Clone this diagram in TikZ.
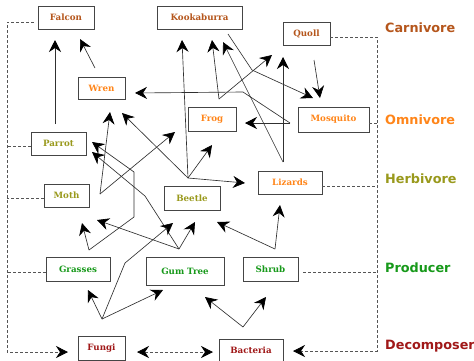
\documentclass[tikz,border=0pt]{standalone}
\usepackage{fontspec}
\setmainfont{DejaVu Serif}
\newfontfamily\levelfont{DejaVu Sans}
\usetikzlibrary{arrows.meta}
\definecolor{carnink}{HTML}{B5561C}
\definecolor{omniink}{HTML}{FF8519}
\definecolor{herbink}{HTML}{99991C}
\definecolor{prodink}{HTML}{17991A}
\definecolor{decoink}{HTML}{A01818}
\definecolor{boxline}{HTML}{454545}
\definecolor{feedink}{HTML}{303030}
\definecolor{dashink}{HTML}{555555}

\begin{document}
\begin{tikzpicture}[
  x=1pt,
  y=-1pt,
  every node/.style={font=\fontsize{8.7}{10}\selectfont\bfseries, inner sep=0pt},
  animal/.style={draw=boxline, line width=0.9pt, fill=white},
  level/.style={anchor=west, font=\levelfont\fontsize{12.8}{14}\selectfont\bfseries},
  bigtip/.style={-{Stealth[length=12pt, width=12pt, inset=4pt, color=black]}},
  feed/.style={draw=feedink, line width=0.65pt, bigtip},
  trophic/.style={draw=dashink, line width=0.7pt, dash pattern=on 3pt off 2pt}
]
  \useasboundingbox (0,0) rectangle (474,360);

  %% ---- boxes ---------------------------------------------------------------
  \node[animal, text=carnink, minimum width=56pt, minimum height=23pt] (falcon) at (66,17.5) {Falcon};
  \node[animal, text=carnink, minimum width=85pt, minimum height=23pt] (kookaburra) at (199.5,17.5) {Kookaburra};
  \node[animal, text=carnink, minimum width=47pt, minimum height=23pt] (quoll) at (306.5,33.5) {Quoll};
  \node[animal, text=omniink, minimum width=47pt, minimum height=22pt] (wren) at (101.5,88) {Wren};
  \node[animal, text=omniink, minimum width=48pt, minimum height=24pt] (frog) at (212,119) {Frog};
  \node[animal, text=omniink, minimum width=71pt, minimum height=25pt] (mosquito) at (333.5,119.5) {Mosquito};
  \node[animal, text=omniink, minimum width=64pt, minimum height=23pt] (lizards) at (290,182.5) {Lizards};
  \node[animal, text=herbink, minimum width=55pt, minimum height=23pt] (parrot) at (58.5,143.5) {Parrot};
  \node[animal, text=herbink, minimum width=45pt, minimum height=23pt] (moth) at (66.5,195.5) {Moth};
  \node[animal, text=herbink, minimum width=56pt, minimum height=24pt] (beetle) at (192,198) {Beetle};
  \node[animal, text=prodink, minimum width=64pt, minimum height=24pt] (grasses) at (78,269) {Grasses};
  \node[animal, text=prodink, minimum width=78pt, minimum height=28pt] (gumtree) at (185,271) {Gum Tree};
  \node[animal, text=prodink, minimum width=55pt, minimum height=24pt] (shrub) at (270.5,269) {Shrub};
  \node[animal, text=decoink, minimum width=47pt, minimum height=24pt] (fungi) at (101.5,348) {Fungi};
  \node[animal, text=decoink, minimum width=64pt, minimum height=23pt] (bacteria) at (251,350.5) {Bacteria};

  %% ---- trophic levels --------------------------------------------------------
  \node[level, text=carnink] (carnivore) at (385,28) {Carnivore};
  \node[level, text=omniink] (omnivore) at (385,120) {Omnivore};
  \node[level, text=herbink] (herbivore) at (385,179) {Herbivore};
  \node[level, text=prodink] (producer) at (385,268) {Producer};
  \node[level, text=decoink] (decomposer) at (385,346) {Decomposer};

  %% ---- start points and arrow ends of the food web ---------------------------
  \foreach \n/\p in {parrotS/{55,124}, wrenS/{95,68}, beetleS/{188,178},
      frogS/{219,99}, lizardS/{283,162}, kookS/{228,34}, mosqS/{290,123},
      quollS/{314,60}, mothS/{100,194}, grassS/{89,250}, gumS/{179,249},
      fungiS/{102,319}, bactS/{243,327}, shrubS/{275,249}}
    \coordinate (\n) at (\p);
  \foreach \n/\p in {falconT1/{55,40}, falconT2/{80,39},
      kookT1/{182,40}, kookT2/{212,40}, kookT3/{223,42},
      quollT1/{272,55}, quollT2/{283,57}, mosqT1/{313,98}, mosqT2/{320,98},
      wrenT1/{110,112}, wrenT2/{122,113}, wrenT3/{135,93},
      frogT1/{175,132}, frogT2/{212,145}, frogT3/{245,123},
      lizardT1/{245,183}, lizardT2/{280,205}, parrotT1/{92,142}, parrotT2/{92,152},
      mothT1/{82,223}, mothT2/{97,220},
      beetleT1/{173,223}, beetleT2/{195,222}, beetleT3/{217,222},
      grassT/{88,290}, gumT1/{163,290}, gumT2/{205,297}, shrubT/{266,297}}
    \coordinate (\n) at (\p);

  %% ---- who eats whom ----------------------------------------------------------
  \foreach \a/\b in {parrotS/falconT1, wrenS/falconT2, beetleS/kookT1,
      beetleS/wrenT2, beetleS/frogT2, beetleS/lizardT1, frogS/kookT2,
      frogS/quollT1, lizardS/kookT3, lizardS/quollT2, mosqS/frogT3,
      quollS/mosqT2, mothS/wrenT1, mothS/frogT1, grassS/mothT1, gumS/mothT2,
      gumS/beetleT2, fungiS/grassT, fungiS/gumT1, bactS/gumT2, bactS/shrubT,
      shrubS/beetleT3, shrubS/lizardT2}
    \draw[feed] (\a) -- (\b);
  \draw[feed] (kookS) -- (252,70) -- (mosqT1);
  \draw[feed] (mosqS) -- (243,92) -- (wrenT3);
  \draw[feed] (grassS) -- (134,217) -- (134,172) -- (parrotT1);
  \draw[feed] (gumS) -- (145,196) -- (parrotT2);
  \draw[feed] (fungiS) -- (125,263) -- (beetleT1);

  %% ---- dashed level rails -------------------------------------------------------
  \coordinate (fungiIn) at (68,352);
  \coordinate (bactIn) at (293,351);
  \coordinate (fungiOut) at (137,352);
  \coordinate (bactOut) at (213,352);
  \draw[trophic, bigtip] ([shift={(-4,4.5)}]falcon.west) -| (7,352) -- (fungiIn);
  \foreach \n/\len in {parrot/24, moth/37, grasses/39}
    \draw[trophic] ([yshift=-3pt]\n.west) -- ++(-\len,0);
  \draw[trophic, bigtip] ([yshift=-3.5pt]quoll.east) -| (377,351) -- (bactIn);
  \foreach \n/\gap/\len in {mosquito/0/8, lizards/0/55, shrub/5/74}
    \draw[trophic] ([shift={(\gap,3.5)}]\n.east) -- ++(\len,0);
  \draw[trophic, {Stealth[length=12pt, width=12pt, inset=4pt, color=black]}-{Stealth[length=12pt, width=12pt, inset=4pt, color=black]}]
    (fungiOut) -- (bactOut);
\end{tikzpicture}
\end{document}
